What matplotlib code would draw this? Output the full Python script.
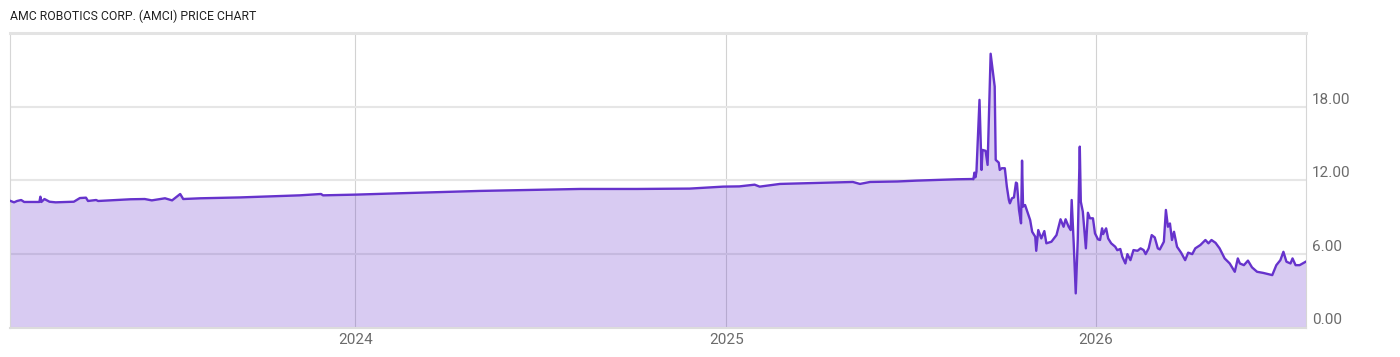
import numpy as np
import pandas as pd
import matplotlib
matplotlib.use("Agg")
import matplotlib.pyplot as plt
import matplotlib.dates as mdates

plt.rcParams['font.family'] = ['Roboto', 'DejaVu Sans']

title = "AMC ROBOTICS CORP. (AMCI) PRICE CHART"

dates = [
    "2023-01-25", "2023-01-29", "2023-02-01", "2023-02-05", "2023-02-08", "2023-02-23",
    "2023-02-24", "2023-02-25", "2023-02-28", "2023-03-05", "2023-03-11", "2023-03-29",
    "2023-04-04", "2023-04-10", "2023-04-12", "2023-04-20", "2023-04-22", "2023-05-24",
    "2023-06-07", "2023-06-14", "2023-06-27", "2023-07-04", "2023-07-12", "2023-07-15",
    "2023-08-01", "2023-09-09", "2023-10-19", "2023-11-07", "2023-11-28", "2023-11-30",
    "2024-01-02", "2024-02-14", "2024-05-03", "2024-08-10", "2024-10-05", "2024-11-26",
    "2024-12-29", "2025-01-14", "2025-01-29", "2025-02-03", "2025-02-23", "2025-05-06",
    "2025-05-13", "2025-05-23", "2025-06-19", "2025-07-08", "2025-08-17", "2025-09-01",
    "2025-09-02", "2025-09-03", "2025-09-04", "2025-09-05", "2025-09-08", "2025-09-10",
    "2025-09-11", "2025-09-14", "2025-09-16", "2025-09-19", "2025-09-21", "2025-09-23",
    "2025-09-24", "2025-09-27", "2025-09-28", "2025-09-30", "2025-10-03", "2025-10-05",
    "2025-10-07", "2025-10-08", "2025-10-10", "2025-10-12", "2025-10-14", "2025-10-15",
    "2025-10-17", "2025-10-19", "2025-10-20", "2025-10-21", "2025-10-23", "2025-10-28",
    "2025-10-30", "2025-11-02", "2025-11-03", "2025-11-05", "2025-11-08", "2025-11-11",
    "2025-11-13", "2025-11-18", "2025-11-23", "2025-11-27", "2025-11-30", "2025-12-02",
    "2025-12-05", "2025-12-07", "2025-12-08", "2025-12-10", "2025-12-12", "2025-12-14",
    "2025-12-16", "2025-12-17", "2025-12-19", "2025-12-22", "2025-12-24", "2025-12-26",
    "2025-12-29", "2025-12-31", "2026-01-03", "2026-01-05", "2026-01-07", "2026-01-08",
    "2026-01-11", "2026-01-13", "2026-01-16", "2026-01-20", "2026-01-22", "2026-01-25",
    "2026-01-27", "2026-01-30", "2026-02-01", "2026-02-04", "2026-02-07", "2026-02-11",
    "2026-02-14", "2026-02-17", "2026-02-19", "2026-02-22", "2026-02-25", "2026-02-28",
    "2026-03-03", "2026-03-05", "2026-03-09", "2026-03-11", "2026-03-13", "2026-03-15",
    "2026-03-17", "2026-03-19", "2026-03-22", "2026-03-26", "2026-03-30", "2026-04-02",
    "2026-04-06", "2026-04-09", "2026-04-14", "2026-04-19", "2026-04-22", "2026-04-25",
    "2026-04-29", "2026-05-03", "2026-05-08", "2026-05-13", "2026-05-18", "2026-05-21",
    "2026-05-23", "2026-05-27", "2026-05-31", "2026-06-04", "2026-06-09", "2026-06-15",
    "2026-06-24", "2026-06-28", "2026-07-02", "2026-07-05", "2026-07-08", "2026-07-12",
    "2026-07-14", "2026-07-17", "2026-07-21", "2026-07-27",
]
prices = [
    10.33, 10.20, 10.31, 10.39, 10.23, 10.23,
    10.66, 10.23, 10.47, 10.25, 10.20, 10.25,
    10.55, 10.58, 10.31, 10.39, 10.31, 10.45,
    10.47, 10.36, 10.53, 10.36, 10.88, 10.47,
    10.53, 10.60, 10.72, 10.77, 10.88, 10.77,
    10.83, 10.94, 11.13, 11.29, 11.29, 11.32,
    11.48, 11.50, 11.64, 11.48, 11.70, 11.86,
    11.70, 11.86, 11.90, 11.97, 12.08, 12.10,
    12.08, 12.62, 12.24, 12.70, 18.55, 12.84,
    14.47, 14.40, 13.25, 22.31, 21.00, 19.64,
    13.66, 13.44, 12.84, 12.98, 12.98, 11.48,
    10.39, 10.12, 10.53, 10.60, 11.81, 11.75,
    9.58, 8.49, 13.60, 9.85, 9.98, 8.76,
    7.80, 7.40, 6.25, 7.94, 7.26, 7.86,
    6.86, 6.99, 7.53, 8.82, 8.21, 8.82,
    8.21, 7.94, 10.39, 6.86, 2.78, 7.13,
    14.74, 10.25, 9.44, 6.45, 9.35, 8.90,
    8.90, 7.67, 7.18, 7.13, 8.08, 7.61,
    8.08, 7.26, 6.86, 6.58, 6.30, 6.40,
    5.76, 5.22, 5.98, 5.49, 6.31, 6.25,
    6.45, 6.31, 5.98, 6.45, 7.53, 7.34,
    6.45, 6.36, 6.99, 9.58, 8.21, 8.48,
    7.13, 7.80, 6.58, 6.10, 5.49, 6.10,
    5.98, 6.45, 6.72, 7.13, 6.86, 7.13,
    6.90, 6.45, 5.63, 5.22, 4.54, 5.63,
    5.22, 5.08, 5.45, 4.90, 4.54, 4.45,
    4.27, 5.08, 5.49, 6.17, 5.36, 5.22,
    5.63, 5.08, 5.08, 5.36,
]

yticks = [0, 6, 12, 18]

dt = pd.to_datetime(dates)

fig = plt.figure(figsize=(14, 3.57), dpi=100)
ax = fig.add_axes([10 / 1400, 1 - 327.5 / 357, 1295.7 / 1400, 294.5 / 357])

line_color = '#6633cc'
# semi-transparent fill so the grid shows through faintly
ax.fill_between(dt, prices, 0, color=line_color, alpha=0.25, linewidth=0, zorder=1)
ax.plot(dt, prices, color=line_color, linewidth=1.7, zorder=3)

ax.set_xlim(dt[0], dt[-1])
ax.set_ylim(0, 24)
ax.set_yticks(yticks)
ax.set_yticklabels([f"{v:.2f}" for v in yticks])
ax.yaxis.tick_right()
ax.xaxis.set_major_locator(mdates.YearLocator())
ax.xaxis.set_major_formatter(mdates.DateFormatter('%Y'))

ax.grid(axis='y', color='#e6e6e6', linewidth=1.5)
ax.grid(axis='x', color='#d2d2d2', linewidth=0.8)
ax.set_axisbelow(True)

ax.tick_params(axis='both', length=0, labelsize=11, labelcolor='#6b6b6b')
ax.tick_params(axis='y', pad=4.5)
ax.tick_params(axis='x', pad=4)
for t in ax.get_yticklabels():
    t.set_verticalalignment('bottom')

for side in ['left', 'right']:
    ax.spines[side].set_color('#d6d6d6')
    ax.spines[side].set_linewidth(0.8)
ax.spines['top'].set_color('#e3e3e3')
ax.spines['top'].set_linewidth(2.2)
ax.spines['bottom'].set_color('#dcdcdc')
ax.spines['bottom'].set_linewidth(1.5)

fig.text(10 / 1400, 1 - 16 / 357, title, fontsize=8.8, color='#222222',
         va='center', ha='left')

fig.savefig('out.png', dpi=100)
